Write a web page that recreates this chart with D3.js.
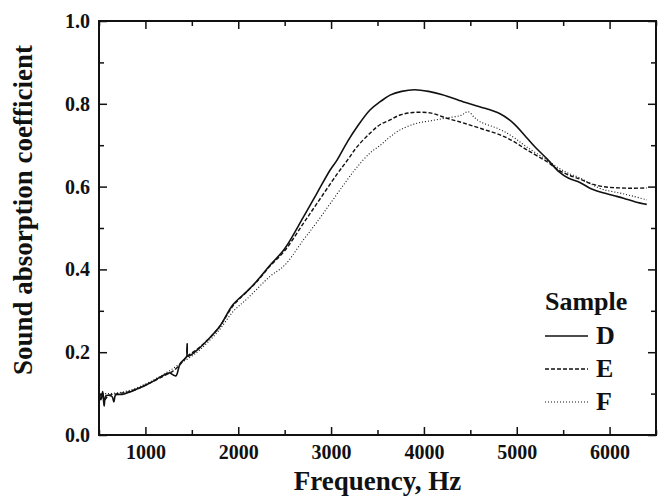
<!DOCTYPE html>
<html>
<head>
<meta charset="utf-8">
<script src="https://cdn.jsdelivr.net/npm/d3@7/dist/d3.min.js"></script>
<style>
  body { margin: 0; background: #fff; }
  text { font-family: "Liberation Serif", "Times New Roman", serif; font-weight: bold; fill: #111; }
</style>
</head>
<body>
<svg id="chart" width="660" height="498"></svg>
<script>
// values
const freqD = [500, 520, 540, 555, 575, 640, 660, 680, 750, 834, 920, 1017, 1100, 1200, 1260, 1300, 1330, 1373, 1420, 1445, 1450, 1455, 1556, 1663, 1800, 1944, 2100, 2200, 2342, 2500, 2698, 2850, 2990, 3064, 3180, 3279, 3419, 3530, 3635, 3760, 3900, 4050, 4200, 4420, 4600, 4820, 4960, 5100, 5200, 5326, 5450, 5560, 5680, 5800, 5930, 6050, 6150, 6280, 6400];
const valD  = [0.100, 0.085, 0.105, 0.070, 0.095, 0.093, 0.080, 0.097, 0.098, 0.104, 0.112, 0.122, 0.132, 0.145, 0.150, 0.145, 0.143, 0.172, 0.183, 0.190, 0.220, 0.190, 0.205, 0.228, 0.262, 0.315, 0.348, 0.372, 0.410, 0.450, 0.525, 0.585, 0.640, 0.664, 0.710, 0.744, 0.785, 0.805, 0.821, 0.830, 0.834, 0.830, 0.822, 0.805, 0.793, 0.776, 0.754, 0.720, 0.695, 0.667, 0.637, 0.620, 0.610, 0.595, 0.585, 0.578, 0.572, 0.563, 0.557];

const freqE = [500, 530, 560, 600, 700, 834, 1017, 1200, 1300, 1373, 1450, 1556, 1663, 1800, 1944, 2100, 2200, 2342, 2500, 2698, 2850, 3064, 3180, 3279, 3419, 3530, 3635, 3743, 3883, 4066, 4250, 4420, 4604, 4820, 4960, 5100, 5326, 5450, 5560, 5680, 5800, 5930, 6100, 6250, 6400];
const valE  = [0.090, 0.100, 0.085, 0.095, 0.100, 0.105, 0.122, 0.143, 0.155, 0.170, 0.190, 0.207, 0.228, 0.262, 0.312, 0.348, 0.370, 0.408, 0.445, 0.510, 0.560, 0.630, 0.665, 0.696, 0.729, 0.750, 0.761, 0.773, 0.779, 0.778, 0.765, 0.754, 0.741, 0.725, 0.710, 0.690, 0.660, 0.640, 0.628, 0.618, 0.607, 0.600, 0.597, 0.596, 0.597];

const freqF = [500, 600, 700, 834, 1017, 1200, 1373, 1556, 1663, 1800, 1944, 2100, 2342, 2500, 2698, 2850, 3064, 3180, 3279, 3419, 3530, 3635, 3743, 3925, 4100, 4249, 4400, 4475, 4540, 4604, 4820, 4960, 5100, 5326, 5450, 5560, 5680, 5800, 5930, 6100, 6250, 6400];
const valF  = [0.100, 0.100, 0.102, 0.108, 0.125, 0.147, 0.172, 0.200, 0.222, 0.255, 0.298, 0.330, 0.383, 0.410, 0.470, 0.515, 0.582, 0.618, 0.647, 0.681, 0.700, 0.720, 0.737, 0.753, 0.760, 0.766, 0.772, 0.781, 0.768, 0.757, 0.738, 0.720, 0.697, 0.664, 0.645, 0.632, 0.621, 0.606, 0.593, 0.585, 0.577, 0.568];

const samples = ['D', 'E', 'F'];
const xTicks = [1000, 2000, 3000, 4000, 5000, 6000];
const yTicks = [0.0, 0.2, 0.4, 0.6, 0.8, 1.0];

const series = [
  { name: 'D', f: freqD, v: valD, dash: null, width: 1.6 },
  { name: 'E', f: freqE, v: valE, dash: '4,2', width: 1.4 },
  { name: 'F', f: freqF, v: valF, dash: '1,2', width: 1.1 },
];

const margin = { left: 99, top: 21, right: 4, bottom: 63 };
const W = 660, H = 498;
const iw = W - margin.left - margin.right;
const ih = H - margin.top - margin.bottom;

const svg = d3.select('#chart');
const g = svg.append('g').attr('transform', `translate(${margin.left},${margin.top})`);

const x = d3.scaleLinear().domain([500, 6500]).range([0, iw]);
const y = d3.scaleLinear().domain([0, 1]).range([ih, 0]);

// curves
const line = d3.line()
  .x(d => x(d[0]))
  .y(d => y(d[1]))
  .curve(d3.curveCatmullRom.alpha(0.5));

series.forEach(s => {
  const pts = s.f.map((f, i) => [f, s.v[i]]);
  g.append('path')
    .datum(pts)
    .attr('fill', 'none')
    .attr('stroke', '#111')
    .attr('stroke-width', s.width)
    .attr('stroke-dasharray', s.dash)
    .attr('d', line);
});

// axes, ticks pointing inward
const minorX = d3.range(500, 6501, 500).filter(v => v % 1000 !== 0);
const minorY = [0.1, 0.3, 0.5, 0.7, 0.9];

function styleAxis(sel) {
  sel.select('.domain').remove();
  sel.selectAll('.tick line').attr('stroke', '#111').attr('stroke-width', 1.5);
  sel.selectAll('text').style('font-size', '20px').attr('fill', '#111');
}

g.append('g').attr('transform', `translate(0,${ih})`)
  .call(d3.axisBottom(x).tickValues(xTicks).tickFormat(d3.format('d')).tickSizeInner(-8).tickPadding(10))
  .call(styleAxis);
g.append('g').attr('transform', `translate(0,${ih})`)
  .call(d3.axisBottom(x).tickValues(minorX).tickFormat('').tickSizeInner(-5))
  .call(styleAxis);
g.append('g')
  .call(d3.axisTop(x).tickValues(xTicks).tickFormat('').tickSizeInner(-8))
  .call(styleAxis);
g.append('g')
  .call(d3.axisTop(x).tickValues(minorX).tickFormat('').tickSizeInner(-5))
  .call(styleAxis);

g.append('g')
  .call(d3.axisLeft(y).tickValues(yTicks).tickFormat(d3.format('.1f')).tickSizeInner(-8).tickPadding(9))
  .call(styleAxis);
g.append('g')
  .call(d3.axisLeft(y).tickValues(minorY).tickFormat('').tickSizeInner(-5))
  .call(styleAxis);
g.append('g').attr('transform', `translate(${iw},0)`)
  .call(d3.axisRight(y).tickValues(yTicks).tickFormat('').tickSizeInner(-8))
  .call(styleAxis);
g.append('g').attr('transform', `translate(${iw},0)`)
  .call(d3.axisRight(y).tickValues(minorY).tickFormat('').tickSizeInner(-5))
  .call(styleAxis);

// frame
g.append('rect')
  .attr('width', iw).attr('height', ih)
  .attr('fill', 'none').attr('stroke', '#111').attr('stroke-width', 2);

// axis titles
svg.append('text')
  .attr('x', margin.left + iw / 2).attr('y', 490)
  .attr('text-anchor', 'middle')
  .style('font-size', '27px')
  .text('Frequency, Hz');

svg.append('text')
  .attr('transform', 'translate(32,210) rotate(-90)')
  .attr('text-anchor', 'middle')
  .style('font-size', '27px')
  .text('Sound absorption coefficient');

// legend
const legend = svg.append('g').attr('transform', 'translate(545,310)');
legend.append('text').attr('x', 0).attr('y', 0).style('font-size', '26px').text('Sample');
samples.forEach((name, i) => {
  const s = series.find(d => d.name === name);
  const ly = 26 + i * 33;
  legend.append('line')
    .attr('x1', 0).attr('x2', 43).attr('y1', ly).attr('y2', ly)
    .attr('stroke', '#111').attr('stroke-width', s.width)
    .attr('stroke-dasharray', s.dash);
  legend.append('text')
    .attr('x', 51).attr('y', ly + 8)
    .style('font-size', '26px')
    .text(name);
});
</script>
</body>
</html>
